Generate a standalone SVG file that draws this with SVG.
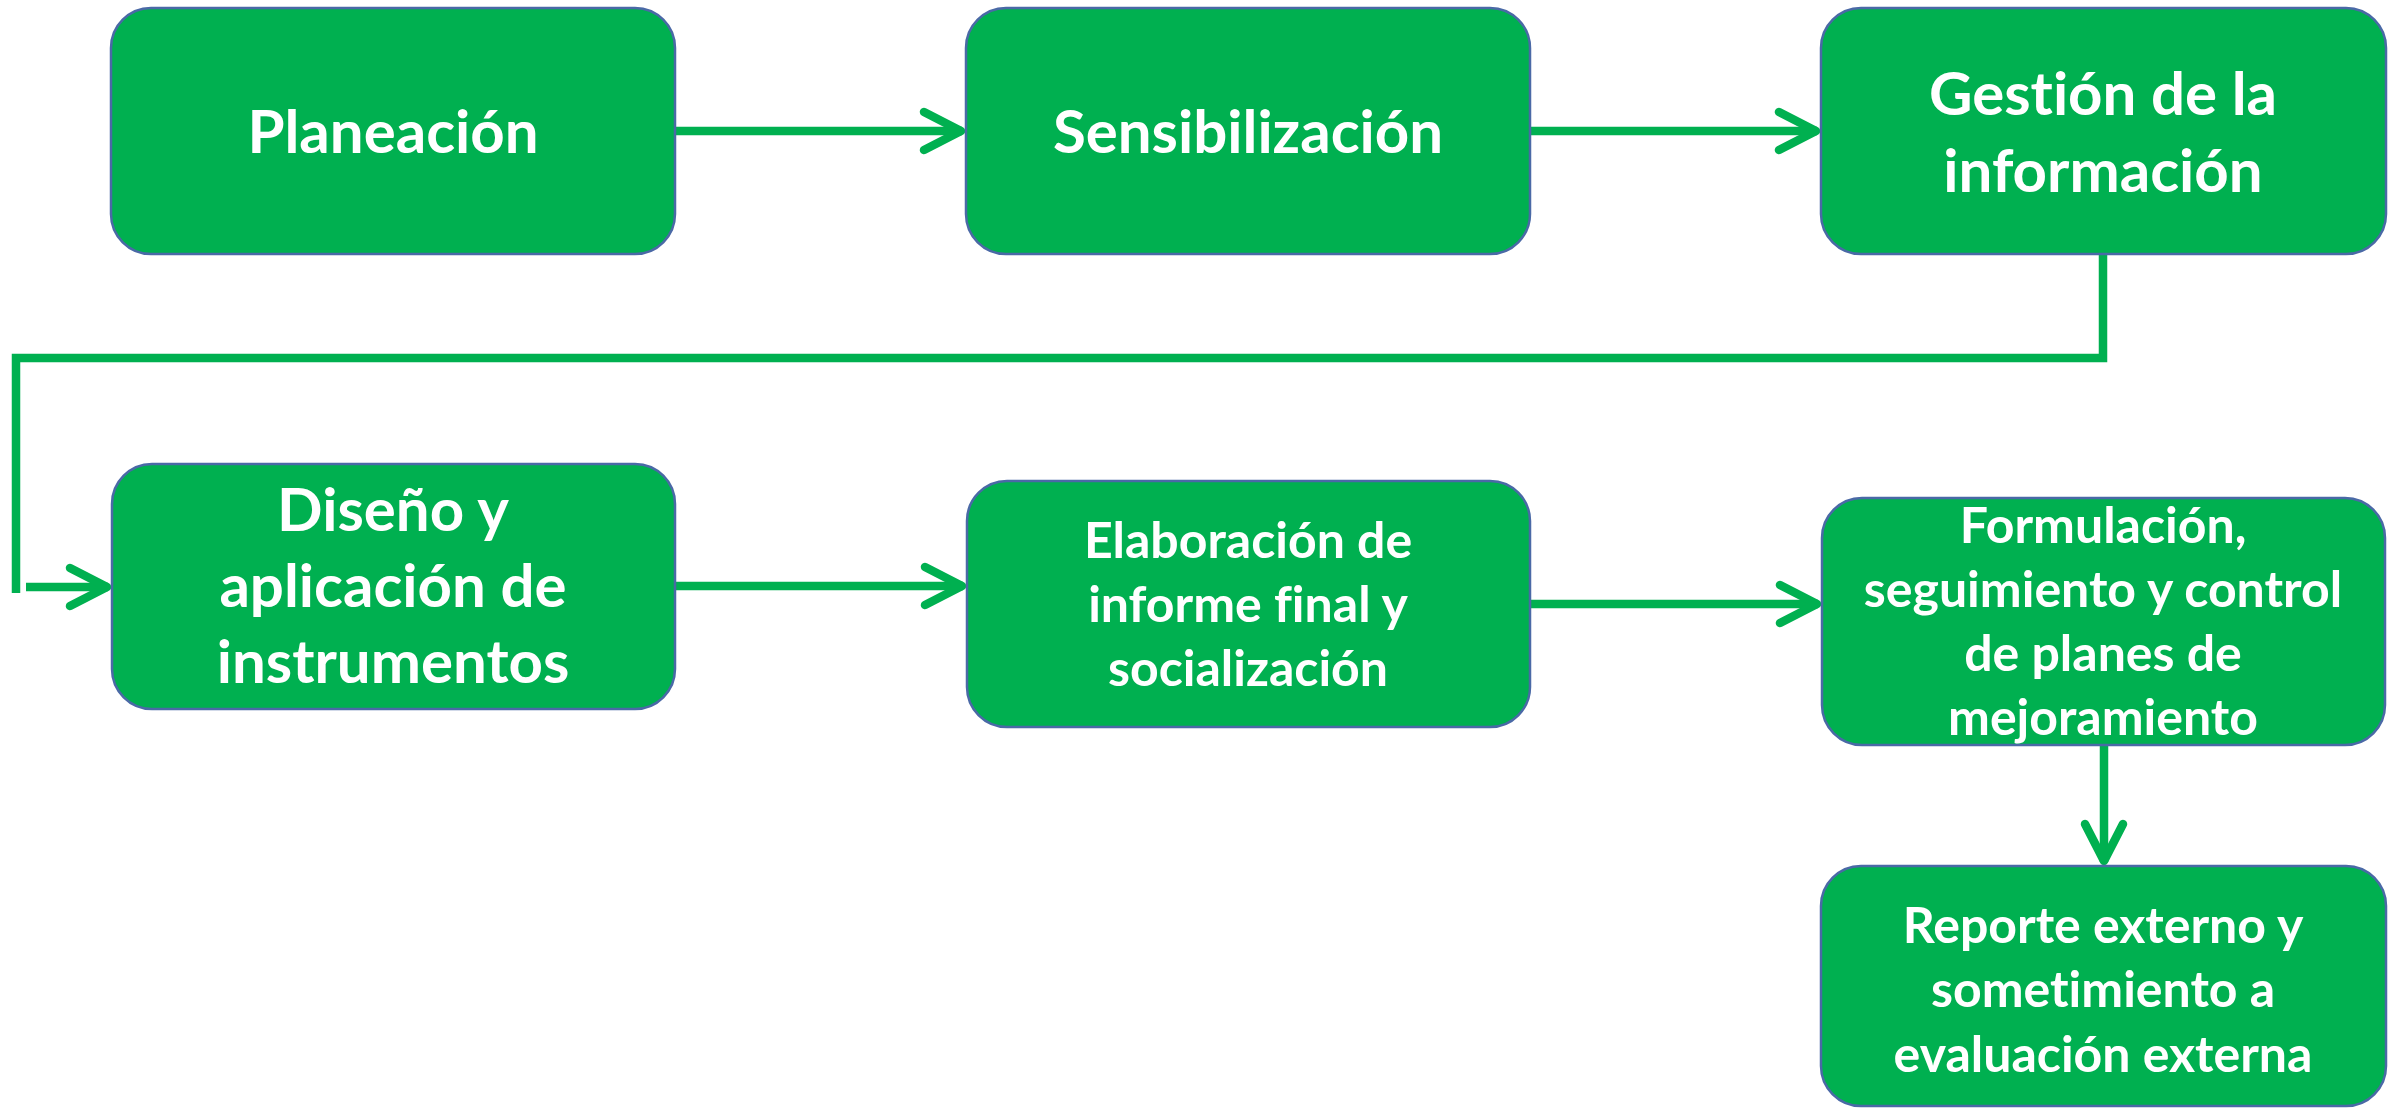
<svg xmlns="http://www.w3.org/2000/svg" width="2390" height="1108" viewBox="0 0 2390 1108">
<style>
.box{fill:#00B050;stroke:#4A69A6;stroke-width:2.5}
.t{fill:#FFFFFF;font-family:Lato,"Liberation Sans",sans-serif;font-weight:bold;text-anchor:middle;font-variant-ligatures:none;font-feature-settings:"liga" 0,"clig" 0}
.big{font-size:60px}
.sm{font-size:50px}
.con{fill:none;stroke:#00B050;stroke-width:8.5}
</style>
<defs>
<marker id="arr" markerUnits="userSpaceOnUse" markerWidth="80" markerHeight="80" viewBox="-50 -40 80 80" refX="0" refY="0" orient="auto" overflow="visible">
<path d="M -38 -19 L -1 0 L -38 19" fill="none" stroke="#00B050" stroke-width="8.5" stroke-linecap="round" stroke-linejoin="round"/>
</marker>
</defs>
<rect width="2390" height="1108" fill="#FFFFFF"/>
<g id="connectors">
<path class="con" d="M675 131 H962" marker-end="url(#arr)"/>
<path class="con" d="M1530 131 H1817" marker-end="url(#arr)"/>
<path class="con" d="M2103 254 V358 H16 V593"/>
<path class="con" d="M26 587 H108" marker-end="url(#arr)"/>
<path class="con" d="M675 586 H963" marker-end="url(#arr)"/>
<path class="con" d="M1530 604 H1818" marker-end="url(#arr)"/>
<path class="con" d="M2104 745 V862" marker-end="url(#arr)"/>
</g>
<g id="n1">
<rect class="box" x="111" y="8" width="564" height="246" rx="40" ry="40"/>
<text class="t big" x="393" y="153">Planeación</text>
</g>
<g id="n2">
<rect class="box" x="966" y="8" width="564" height="246" rx="40" ry="40"/>
<text class="t big" x="1248" y="153">Sensibilización</text>
</g>
<g id="n3">
<rect class="box" x="1821" y="8" width="565" height="246" rx="40" ry="40"/>
<text class="t big" x="2103" y="115">Gestión de la</text>
<text class="t big" x="2103" y="192">información</text>
</g>
<g id="n4">
<rect class="box" x="112" y="464" width="563" height="245" rx="40" ry="40"/>
<text class="t big" x="393" y="531">Diseño y</text>
<text class="t big" x="393" y="607">aplicación de</text>
<text class="t big" x="393" y="683">instrumentos</text>
</g>
<g id="n5">
<rect class="box" x="967" y="481" width="563" height="246" rx="40" ry="40"/>
<text class="t sm" x="1248" y="558">Elaboración de</text>
<text class="t sm" x="1248" y="622">informe final y</text>
<text class="t sm" x="1248" y="686">socialización</text>
</g>
<g id="n6">
<rect class="box" x="1822" y="498" width="563" height="247" rx="40" ry="40"/>
<text class="t sm" x="2103" y="543">Formulación,</text>
<text class="t sm" x="2103" y="607">seguimiento y control</text>
<text class="t sm" x="2103" y="671">de planes de</text>
<text class="t sm" x="2103" y="735">mejoramiento</text>
</g>
<g id="n7">
<rect class="box" x="1821" y="866" width="565" height="240" rx="40" ry="40"/>
<text class="t sm" x="2103" y="943">Reporte externo y</text>
<text class="t sm" x="2103" y="1007">sometimiento a</text>
<text class="t sm" x="2103" y="1072">evaluación externa</text>
</g>
</svg>
